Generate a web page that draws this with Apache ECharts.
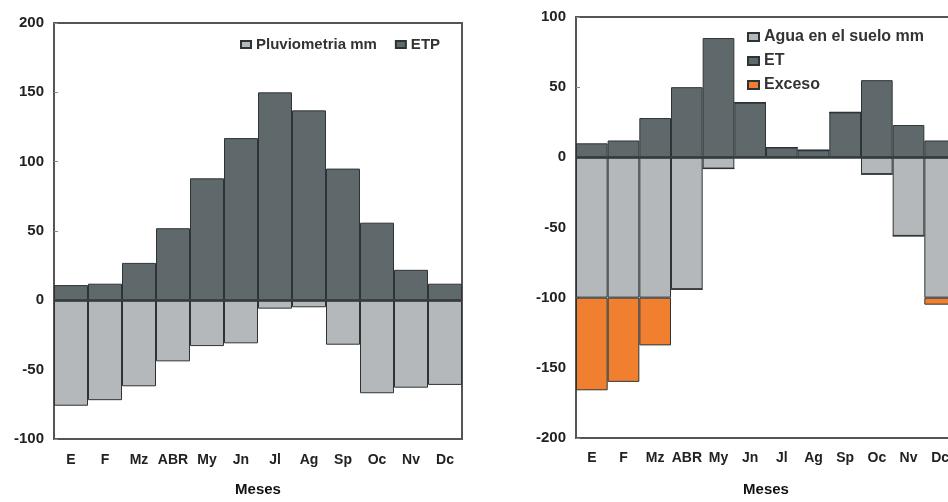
<!DOCTYPE html>
<html>
<head>
<meta charset="utf-8">
<script src="https://cdn.jsdelivr.net/npm/echarts@6/dist/echarts.min.js"></script>
<style>
html,body{margin:0;padding:0;background:#fff;overflow:hidden;width:948px;height:502px;}
#c{width:964px;height:502px;}
</style>
</head>
<body>
<div id="c"></div>
<script>
const months = ['E','F','Mz','ABR','My','Jn','Jl','Ag','Sp','Oc','Nv','Dc'];
// left chart
const pluviometria = [-76,-72,-62,-44,-33,-31,-6,-5,-32,-67,-63,-61];
const etp = [11,12,27,52,88,117,150,137,95,56,22,12];
// right chart
const agua = [-100,-100,-100,-94,-8,0,0,0,0,-12,-56,-100];
const et = [10,12,28,50,85,39,7,5,32,55,23,12];
const exceso = [-66,-60,-34,0,0,0,0,0,0,0,0,-5];

const DARK = '#5f696c', LIGHT = '#b4b8ba', ORANGE = '#f08030', EDGE = '#2e3436';
const FONT = '"Liberation Sans", Arial, sans-serif';
const TXT = '#222';

const chart = echarts.init(document.getElementById('c'), null, {renderer:'canvas'});

function xAx(gi, nameGap, margin){
  return {
    type:'category', gridIndex:gi, data:months,
    axisLine:{onZero:false, lineStyle:{color:'#555', width:2}},
    axisTick:{show:false},
    axisLabel:{interval:0, margin:margin, color:TXT, fontSize:14, fontWeight:'bold', fontFamily:FONT, hideOverlap:false},
    name:'Meses', nameLocation:'middle', nameGap:nameGap,
    nameTextStyle:{color:'#111', fontSize:15, fontWeight:'bold', fontFamily:FONT}
  };
}
function yAx(gi, min, max){
  return {
    type:'value', gridIndex:gi, min:min, max:max, interval:50,
    splitLine:{show:false},
    axisLine:{show:true, lineStyle:{color:'#555', width:2}},
    axisTick:{show:true, inside:true, length:4, lineStyle:{color:'#888'}},
    axisLabel:{margin:10, color:TXT, fontSize:15, fontWeight:'bold', fontFamily:FONT}
  };
}
const zeroLine = {
  silent:true, symbol:'none', label:{show:false},
  lineStyle:{color:'#353c3e', width:2.5, type:'solid'},
  data:[{yAxis:0}]
};
function bar(name, data, color, xi, stack, extra){
  return Object.assign({
    name:name, type:'bar', data:data, xAxisIndex:xi, yAxisIndex:xi, stack:stack,
    barCategoryGap:'0%', barGap:'-100%',
    itemStyle:{color:color, borderColor:EDGE, borderWidth:1},
    emphasis:{disabled:true}, animation:false
  }, extra||{});
}

chart.setOption({
  animation:false,
  backgroundColor:'#fff',
  grid:[
    {left:54, top:23, width:408, height:424, show:true, borderColor:'#555', borderWidth:2, backgroundColor:'transparent'},
    {left:576, top:17, width:380, height:436, show:true, borderColor:'#555', borderWidth:2, backgroundColor:'transparent'}
  ],
  legend:[
    {
      data:['Pluviometria mm','ETP'], left:235, top:32, orient:'horizontal', icon:'rect',
      itemWidth:10, itemHeight:7, itemGap:18,
      textStyle:{color:'#333', fontSize:15, fontWeight:'bold', fontFamily:FONT},
      selectedMode:false
    },
    {
      data:['Agua en el suelo mm','ET','Exceso'], left:742, top:23, orient:'vertical', icon:'rect',
      itemWidth:11, itemHeight:8, itemGap:6,
      textStyle:{color:'#333', fontSize:16, fontWeight:'bold', fontFamily:FONT, lineHeight:18},
      selectedMode:false
    }
  ],
  xAxis:[ xAx(0, 43, 14), xAx(1, 44, 13) ],
  yAxis:[ yAx(0, -100, 200), yAx(1, -200, 100) ],
  series:[
    bar('ETP', etp, DARK, 0, 'L', {markLine:zeroLine}),
    bar('Pluviometria mm', pluviometria, LIGHT, 0, 'L'),
    bar('ET', et, DARK, 1, 'R', {markLine:zeroLine}),
    bar('Agua en el suelo mm', agua, LIGHT, 1, 'R'),
    bar('Exceso', exceso, ORANGE, 1, 'R')
  ]
});
</script>
</body>
</html>
